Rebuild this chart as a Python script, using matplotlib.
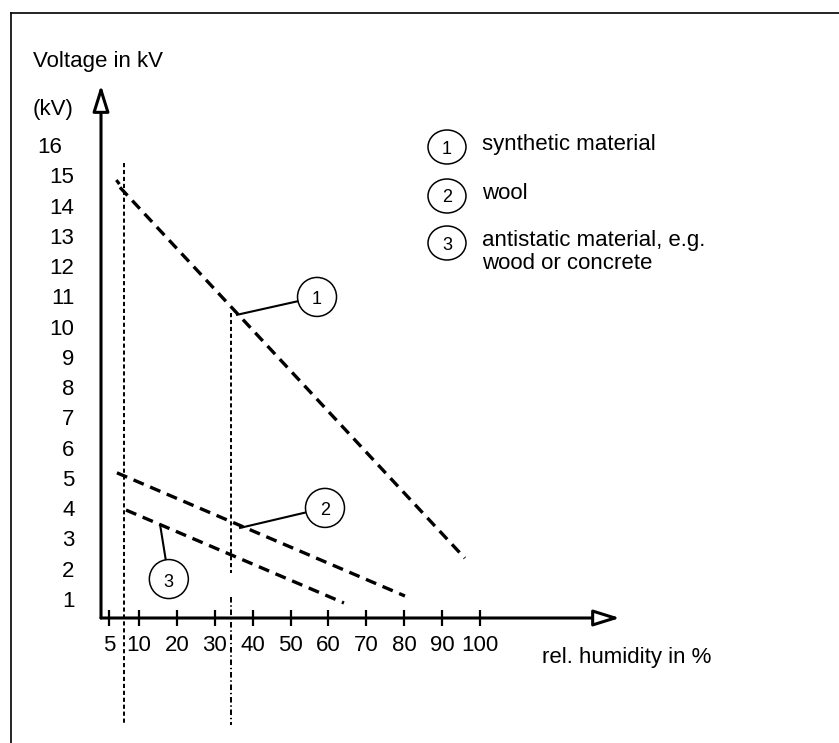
import matplotlib
matplotlib.use("Agg")
import matplotlib.pyplot as plt
from matplotlib.patches import Ellipse
from matplotlib.lines import Line2D
from matplotlib.transforms import ScaledTranslation

plt.rcParams['font.family'] = ['Liberation Sans', 'DejaVu Sans']
plt.rcParams['lines.scale_dashes'] = False

# --- data -------------------------------------------------------------
humidity_ticks = [2.1, 10, 20, 30, 40, 50, 60, 70, 80, 90, 100]
humidity_labels = ['5', '10', '20', '30', '40', '50', '60', '70', '80', '90', '100']
voltage_ticks = list(range(1, 17))

# dashed trend lines: (humidity %, voltage kV)
synthetic_x = [5.0, 96.0]
synthetic_y = [14.6, 2.35]
wool_x = [4.2, 80.2]
wool_y = [5.17, 1.1]
antistatic_x = [6.6, 64.1]
antistatic_y = [3.94, 0.87]

# reference humidity markers
marker_low = 6.1
marker_mid = 34.3

legend_labels = ['synthetic material', 'wool', 'antistatic material, e.g.\nwood or concrete']

# callout circles: number, centre, leader target
callout_ids = ['1', '2', '3']
callout_cx = [57.0, 59.1, 17.9]
callout_cy = [10.98, 4.01, 1.66]
callout_tx = [35.9, 36.7, 15.6]
callout_ty = [10.39, 3.35, 3.45]

FS = 16
NUM_FS = 13
NARROW = ['Liberation Sans Narrow', 'Liberation Sans']

# --- figure -----------------------------------------------------------
W, H = 839, 743
fig = plt.figure(figsize=(W / 100, H / 100), dpi=100)
ax = fig.add_axes([0, 0, 1, 1])

px_x = 3.79    # pixels per % humidity
px_y = 30.27   # pixels per kV
x0, y0 = 101, 629.3
ax.set_xlim(-x0 / px_x, (W - x0) / px_x)
ax.set_ylim((y0 - H) / px_y, y0 / px_y)

axis_y = (y0 - 618) / px_y
x_end = (620 - x0) / px_x
y_end = (y0 - 85) / px_y

for s in ax.spines.values():
    s.set_visible(False)
ax.spines['bottom'].set_position(('data', axis_y))
ax.spines['left'].set_position(('data', 0))

# outer frame (top and left edges only)
fig.add_artist(Line2D([11 / W, 11 / W], [0, 1 - 13 / H], color='black', lw=1.2))
fig.add_artist(Line2D([11 / W, 1], [1 - 13 / H, 1 - 13 / H], color='black', lw=1.2))

# axes with open arrow heads
arrow = dict(arrowstyle='-|>,head_length=0.8,head_width=0.25', fc='white', ec='black',
             lw=2.2, shrinkA=0, shrinkB=0, mutation_scale=20)
ax.annotate('', xy=(x_end, axis_y), xytext=(0, axis_y), arrowprops=arrow)
ax.annotate('', xy=(0, y_end), xytext=(0, axis_y), arrowprops=arrow)

ax.set_xticks(humidity_ticks)
ax.set_xticklabels(humidity_labels)
ax.tick_params(axis='x', direction='inout', length=11.5, width=1.6, pad=6.5, labelsize=FS)
ax.set_yticks(voltage_ticks)
ax.set_yticklabels([str(v) for v in voltage_ticks])
ax.tick_params(axis='y', length=0, pad=19, labelsize=FS)
top_lbl = ax.get_yticklabels()[-1]
top_lbl.set_transform(top_lbl.get_transform() + ScaledTranslation(-12 / 100, 0, fig.dpi_scale_trans))

ax.text(-68 / px_x, (y0 - 62) / px_y, 'Voltage in kV', fontsize=FS, va='center', ha='left')
ax.text(-68 / px_x, (y0 - 109) / px_y, '(kV)', fontsize=FS, va='center', ha='left')
ax.text(711 / px_x - x0 / px_x, (y0 - 657) / px_y, 'rel. humidity in %', fontsize=FS, va='center', ha='right')

# trend lines
for xs, ys in [(synthetic_x, synthetic_y), (wool_x, wool_y), (antistatic_x, antistatic_y)]:
    ax.plot(xs, ys, color='black', lw=2.4, dashes=(8, 5), solid_capstyle='butt')
ax.plot([4.3, 4.6], [14.8, 14.75], color='black', lw=2.3)

# vertical humidity markers
bottom = (y0 - 725) / px_y
ax.plot([marker_low, marker_low], [(y0 - 163) / px_y, bottom], color='black', lw=1.4, dashes=(3, 2))
ax.plot([marker_mid, marker_mid], [(y0 - 313) / px_y, (y0 - 573) / px_y], color='black', lw=1.4, dashes=(3, 2))
ax.plot([marker_mid, marker_mid], [(y0 - 597) / px_y, bottom], color='black', lw=1.4, dashes=(4, 2, 1, 2))

# numbered callouts
r = 19.5
for n, cx, cy, tx, ty in zip(callout_ids, callout_cx, callout_cy, callout_tx, callout_ty):
    ax.plot([cx, tx], [cy, ty], color='black', lw=1.5, zorder=3)
    ax.add_patch(Ellipse((cx, cy), 2 * r / px_x, 2 * r / px_y, fc='white', ec='black', lw=1.1, zorder=4))
    ax.text(cx, cy - 3 / px_y, n, fontsize=NUM_FS, ha='center', va='center', zorder=5, family=NARROW)

# legend
leg_cy = [147, 196, 243]
for n, py, label in zip(callout_ids, leg_cy, legend_labels):
    cx = (447 - x0) / px_x
    cy = (y0 - py) / px_y
    ax.add_patch(Ellipse((cx, cy), 38 / px_x, 34 / px_y, fc='white', ec='black', lw=1.1))
    ax.text(cx, cy - 2 / px_y, n, fontsize=NUM_FS, ha='center', va='center', family=NARROW)
    ax.text((482 - x0) / px_x, cy + 13 / px_y, label, fontsize=FS, ha='left', va='top',
            linespacing=1.1)

fig.savefig('out.png', dpi=100)
